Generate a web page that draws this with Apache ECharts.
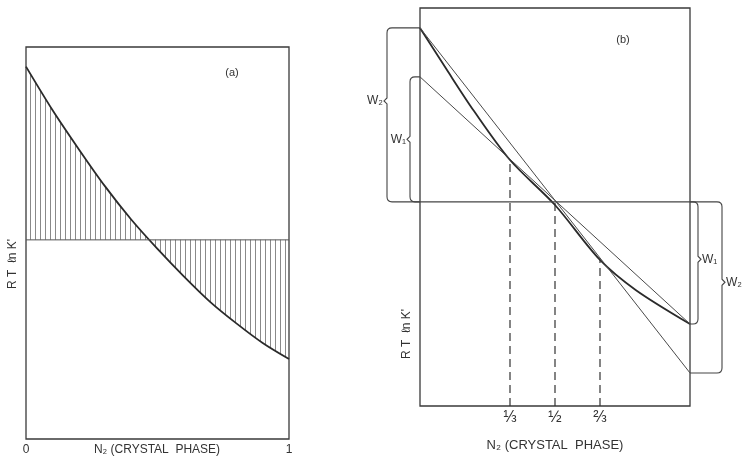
<!DOCTYPE html>
<html><head><meta charset="utf-8">
<script src="https://cdn.jsdelivr.net/npm/echarts@6/dist/echarts.min.js"></script>
<style>html,body{margin:0;background:#fff}#c{width:742px;height:457px}</style>
</head><body><div id="c"></div>
<script>
// ---------- Panel (a) ----------
const aX = [0, 0.1, 0.2, 0.3, 0.4, 0.5, 0.6, 0.7, 0.8, 0.9, 1.0];
const aCurve = [95.0, 84.0, 74.0, 64.5, 56.0, 48.5, 41.5, 35.0, 29.5, 24.5, 20.4];
const aLevel = 50.8;
const aTickLabels = ['0', '1'];
const aTitle = 'N₂ (CRYSTAL  PHASE)';
// ---------- Panel (b) ----------
const bX = [0, 0.1, 0.2, 1/3, 0.5, 2/3, 0.8, 1.0];
const bCurve = [95.0, 84.4, 74.1, 61.8, 50.5, 36.7, 29.1, 20.6];
const bLevel = 51.3;
const tangentThird = [[0, 82.7], [1, 20.6]];
const tangentTwoThirds = [[0, 95.0], [1, 8.3]];
const fracX = [1/3, 1/2, 2/3];
const fracLabels = ['⅓', '½', '⅔'];
const fracTop = [61.8, 51.3, 36.7];
const bTitle = 'N₂ (CRYSTAL  PHASE)';
const yTitle = "R T  ℓn K'";
const bracketLabels = ['W₁', 'W₂'];

const INK = '#333';
const FONT = 'Liberation Sans';

// hatch pattern
const pc = document.createElement('canvas');
pc.width = 5; pc.height = 4;
const pctx = pc.getContext('2d');
pctx.fillStyle = '#8a8a8a';
pctx.fillRect(0, 0, 1, 4);

// brackets: side, value at edge, horizontal offset (px), notch position fraction, label
const brackets = [
  {side: 'L', val: tangentThird[0][1], off: -10, notch: 0.5, label: bracketLabels[0]},
  {side: 'L', val: tangentTwoThirds[0][1], off: -33, notch: 0.42, label: bracketLabels[1]},
  {side: 'R', val: tangentThird[1][1], off: 8, notch: 0.47, label: bracketLabels[0]},
  {side: 'R', val: tangentTwoThirds[1][1], off: 32, notch: 0.47, label: bracketLabels[1]}
];

const chart = echarts.init(document.getElementById('c'), null, {renderer: 'canvas'});

const option = {
  backgroundColor: '#fff',
  animation: false,
  grid: [
    {left: 26, top: 47, width: 263, height: 392, outerBoundsMode: 'none', containLabel: false,
     show: true, borderColor: '#3a3a3a', borderWidth: 1.3, backgroundColor: 'transparent'},
    {left: 420, top: 8, width: 270, height: 398, outerBoundsMode: 'none', containLabel: false,
     show: true, borderColor: '#3a3a3a', borderWidth: 1.3, backgroundColor: 'transparent'}
  ],
  xAxis: [
    {type: 'value', gridIndex: 0, min: 0, max: 1, interval: 1,
     axisLine: {show: false}, axisTick: {show: false}, splitLine: {show: false},
     axisLabel: {margin: 5, color: INK, fontFamily: FONT, fontSize: 12,
       formatter: v => (v === 0 ? aTickLabels[0] : aTickLabels[1])}},
    {type: 'value', gridIndex: 1, min: 0, max: 1,
     axisLine: {show: false}, axisTick: {show: false}, splitLine: {show: false},
     axisLabel: {margin: 4, color: INK, fontFamily: FONT, fontSize: 16, customValues: fracX,
       formatter: v => { const i = fracX.findIndex(f => Math.abs(f - v) < 1e-6); return i >= 0 ? fracLabels[i] : ''; }},
     name: bTitle, nameLocation: 'middle', nameGap: 33,
     nameTextStyle: {color: INK, fontFamily: FONT, fontSize: 13, verticalAlign: 'top'}}
  ],
  yAxis: [
    {type: 'value', gridIndex: 0, min: 0, max: 100, show: false},
    {type: 'value', gridIndex: 1, min: 0, max: 100, show: false}
  ],
  graphic: [
    {type: 'text', x: 157, y: 450, style: {text: aTitle, font: '12px ' + FONT, fill: INK, align: 'center', verticalAlign: 'middle'}},
    {type: 'text', x: 232, y: 73, style: {text: '(a)', font: '11px ' + FONT, fill: INK, align: 'center', verticalAlign: 'middle'}},
    {type: 'text', x: 623, y: 40, style: {text: '(b)', font: '11px ' + FONT, fill: INK, align: 'center', verticalAlign: 'middle'}},
    {type: 'text', x: 13, y: 264, rotation: Math.PI / 2, style: {text: yTitle, font: '12px ' + FONT, fill: INK, align: 'center', verticalAlign: 'middle'}},
    {type: 'text', x: 407, y: 334, rotation: Math.PI / 2, style: {text: yTitle, font: '12px ' + FONT, fill: INK, align: 'center', verticalAlign: 'middle'}}
  ],
  series: [
    {type: 'line', xAxisIndex: 0, yAxisIndex: 0, symbol: 'none', smooth: 0.3,
     data: aX.map((x, i) => [x, aCurve[i]]),
     lineStyle: {color: '#2a2a2a', width: 1.8},
     areaStyle: {origin: aLevel, color: {image: pc, repeat: 'repeat'}, opacity: 1}},
    {type: 'line', xAxisIndex: 0, yAxisIndex: 0, symbol: 'none',
     data: [[0, aLevel], [1, aLevel]], lineStyle: {color: '#555', width: 1}},
    {type: 'line', xAxisIndex: 1, yAxisIndex: 1, symbol: 'none', smooth: 0.3,
     data: bX.map((x, i) => [x, bCurve[i]]), lineStyle: {color: '#2a2a2a', width: 1.8}},
    {type: 'line', xAxisIndex: 1, yAxisIndex: 1, symbol: 'none',
     data: tangentThird, lineStyle: {color: '#4a4a4a', width: 1}},
    {type: 'line', xAxisIndex: 1, yAxisIndex: 1, symbol: 'none',
     data: tangentTwoThirds, lineStyle: {color: '#4a4a4a', width: 1}},
    {type: 'line', xAxisIndex: 1, yAxisIndex: 1, symbol: 'none',
     data: [[0, bLevel], [1, bLevel]], lineStyle: {color: '#444', width: 1.2}},
    {type: 'custom', xAxisIndex: 1, yAxisIndex: 1, clip: false,
     data: fracX.map((x, i) => [x, fracTop[i]]),
     renderItem: (params, api) => {
       const p0 = api.coord([api.value(0), 0]);
       const p1 = api.coord([api.value(0), api.value(1)]);
       return {type: 'line', shape: {x1: p0[0], y1: p0[1], x2: p1[0], y2: p1[1]},
               style: {stroke: '#333', lineWidth: 1.2, lineDash: [8, 5]}};
     }},
    {type: 'custom', xAxisIndex: 1, yAxisIndex: 1, clip: false,
     data: brackets.map((b, i) => [i, b.val]),
     renderItem: (params, api) => {
       const b = brackets[params.dataIndex];
       const lvl = api.coord([0, bLevel])[1];
       const yv = api.coord([0, b.val])[1];
       const edgeX = api.coord([b.side === 'L' ? 0 : 1, 0])[0];
       const xl = edgeX + b.off;
       const r = 5, n = 3;
       const top = Math.min(yv, lvl), bot = Math.max(yv, lvl);
       const ym = top + (bot - top) * b.notch;
       const d = b.side === 'L' ? -1 : 1;
       const path =
         `M${edgeX} ${top} L${xl - d * r} ${top} Q${xl} ${top} ${xl} ${top + r} ` +
         `L${xl} ${ym - n} L${xl + d * n} ${ym} L${xl} ${ym + n} ` +
         `L${xl} ${bot - r} Q${xl} ${bot} ${xl - d * r} ${bot} L${edgeX} ${bot}`;
       return {type: 'group', children: [
         {type: 'path', shape: {pathData: path}, style: {stroke: '#444', fill: null, lineWidth: 1.1}},
         {type: 'text', x: xl + d * (n + 1), y: ym,
          style: {text: b.label, font: '12px ' + FONT, fill: INK, align: b.side === 'L' ? 'right' : 'left', verticalAlign: 'middle'}}
       ]};
     }}
  ]
};
chart.setOption(option);
</script>
</body></html>
